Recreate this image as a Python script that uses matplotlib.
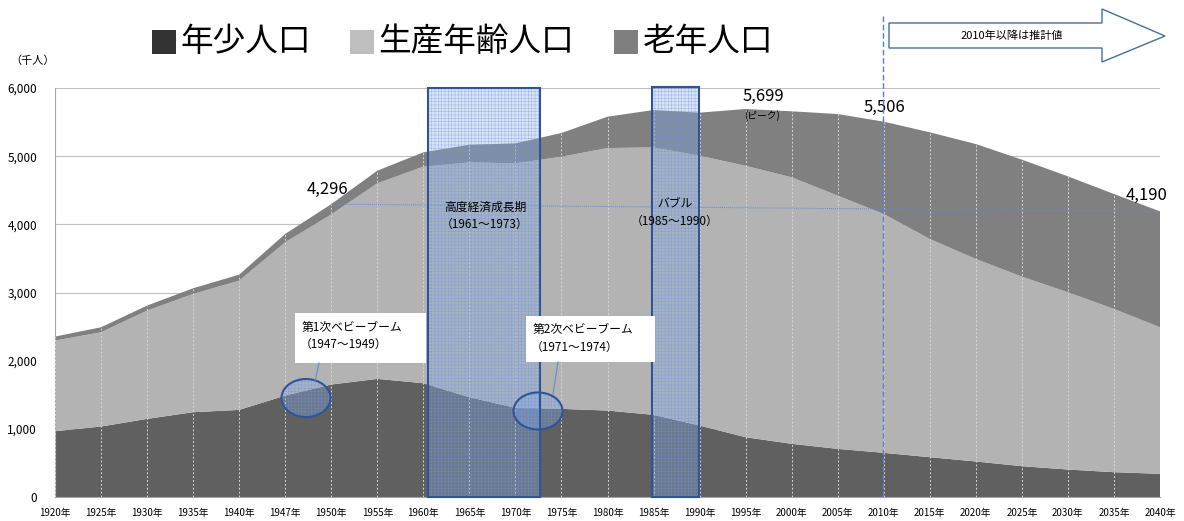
import matplotlib
matplotlib.use('Agg')
import matplotlib.pyplot as plt
from matplotlib.patches import Rectangle, Ellipse, Polygon
from matplotlib.lines import Line2D
import numpy as np

plt.rcParams['font.family'] = ['Noto Sans CJK JP', 'DejaVu Sans']
plt.rcParams['hatch.linewidth'] = 0.35

years = ['1920年', '1925年', '1930年', '1935年', '1940年', '1947年', '1950年', '1955年',
         '1960年', '1965年', '1970年', '1975年', '1980年', '1985年', '1990年', '1995年',
         '2000年', '2005年', '2010年', '2015年', '2020年', '2025年', '2030年', '2035年', '2040年']
youth = [965, 1034, 1146, 1244, 1278, 1488, 1650, 1733, 1669, 1464, 1307, 1293, 1268,
         1205, 1048, 877, 780, 706, 648, 584, 521, 452, 403, 364, 340]
working = [1330, 1383, 1589, 1735, 1896, 2249, 2496, 2869, 3177, 3445, 3588, 3699, 3851,
           3924, 3959, 3982, 3910, 3715, 3504, 3201, 2971, 2781, 2600, 2395, 2150]
elderly = [58, 73, 73, 83, 88, 122, 150, 185, 210, 259, 293, 348, 460,
           548, 631, 833, 968, 1197, 1354, 1565, 1686, 1716, 1701, 1686, 1700]
legend_labels = ['年少人口', '生産年齢人口', '老年人口']
area_colors = ['#606060', '#b3b3b3', '#808080']
legend_colors = ['#333333', '#bfbfbf', '#7f7f7f']
yticks = [0, 1000, 2000, 3000, 4000, 5000, 6000]

W, H = 1184, 521
fig = plt.figure(figsize=(W / 100, H / 100), dpi=100)


def fx(x):
    return x / W


def fy(y):
    return 1 - y / H


ax = fig.add_axes([fx(55), fy(497), (1160 - 55) / W, (497 - 88) / H])
x = np.arange(len(years))
total = np.array(youth) + np.array(working) + np.array(elderly)
ax.stackplot(x, youth, working, elderly, colors=area_colors, linewidth=0, zorder=2)
ax.vlines(x, 0, total, colors='#d6d6d6', linestyles=(0, (2, 2)), linewidth=0.7, zorder=3)
ax.set_xlim(0, len(years) - 1)
ax.set_ylim(0, 6000)
ax.set_yticks(yticks)
ax.set_yticklabels([f'{v:,}' for v in yticks], fontsize=8.5)
ax.set_xticks(x)
ax.set_xticklabels(years, fontsize=7)
ax.tick_params(axis='both', length=0)
ax.tick_params(axis='x', pad=8)
ax.tick_params(axis='y', pad=13)
ax.yaxis.grid(True, color='#c0c0c0', linewidth=0.8)
ax.set_axisbelow(True)
for s in ['top', 'right']:
    ax.spines[s].set_visible(False)
ax.spines['left'].set_color('#a6a6a6')
ax.spines['bottom'].set_color('#a6a6a6')

# line connecting 1950 and 2040 totals
i1950 = years.index('1950年')
ax.plot([x[i1950], x[-1]], [total[i1950], total[-1]], color='#5b8fd5', linewidth=0.7,
        linestyle=(0, (1, 1)), zorder=6)

# unit label
fig.text(fx(33), fy(61), '（千人）', fontsize=8, ha='center', va='center')

# legend
leg_sq = [152, 350, 614]
leg_tx = [180, 378, 643]
for sq, tx, lab, col in zip(leg_sq, leg_tx, legend_labels, legend_colors):
    fig.add_artist(Rectangle((fx(sq), fy(54)), 24 / W, 24 / H, transform=fig.transFigure,
                             facecolor=col, edgecolor='none'))
    fig.text(fx(tx), fy(42), lab, fontsize=23.5, ha='left', va='center')

hatch_face = (0.55, 0.68, 0.90, 0.32)
hatch_edge = (0.42, 0.58, 0.86, 0.6)
dark_blue = '#2f5597'


def hatched_rect(x0, y0, x1, y1):
    fig.add_artist(Rectangle((fx(x0), fy(y1)), (x1 - x0) / W, (y1 - y0) / H,
                             transform=fig.transFigure, facecolor=hatch_face,
                             edgecolor=hatch_edge, hatch='+++++', linewidth=0, zorder=4))
    fig.add_artist(Rectangle((fx(x0), fy(y1)), (x1 - x0) / W, (y1 - y0) / H,
                             transform=fig.transFigure, facecolor='none',
                             edgecolor=dark_blue, linewidth=1.5, zorder=5))


def hatched_ellipse(cx, cy, w, h):
    fig.add_artist(Ellipse((fx(cx), fy(cy)), w / W, h / H, transform=fig.transFigure,
                           facecolor=hatch_face, edgecolor=hatch_edge, hatch='+++++',
                           linewidth=0, zorder=4))
    fig.add_artist(Ellipse((fx(cx), fy(cy)), w / W, h / H, transform=fig.transFigure,
                           facecolor='none', edgecolor=dark_blue, linewidth=1.5, zorder=5))


hatched_rect(428, 88, 540, 497)
hatched_rect(652, 87, 699, 497)
fig.text(fx(485), fy(207), '高度経済成長期', fontsize=8.5, ha='center', va='center', zorder=7)
fig.text(fx(485), fy(224), '（1961～1973）', fontsize=8.5, ha='center', va='center', zorder=7)
fig.text(fx(675), fy(203), 'バブル', fontsize=8.5, ha='center', va='center', zorder=7)
fig.text(fx(675), fy(221), '（1985～1990）', fontsize=8.5, ha='center', va='center', zorder=7)

hatched_ellipse(306, 398, 49, 38)
hatched_ellipse(538, 411, 49, 37)

# callouts
for (bx0, by0, bx1, by1), (l1, l2), (ax0, ay0, ax1, ay1) in [
        ((295, 313, 426, 363), ('第1次ベビーブーム', '（1947～1949）'), (319, 363, 315, 381)),
        ((526, 316, 655, 362), ('第2次ベビーブーム', '（1971～1974）'), (558, 362, 553, 394))]:
    fig.add_artist(Rectangle((fx(bx0), fy(by1)), (bx1 - bx0) / W, (by1 - by0) / H,
                             transform=fig.transFigure, facecolor='white',
                             edgecolor='none', zorder=6))
    fig.text(fx(bx0 + 7), fy(by0 + 14), l1, fontsize=8.5, ha='left', va='center', zorder=7)
    fig.text(fx(bx0 + 5), fy(by0 + 31), l2, fontsize=8.5, ha='left', va='center', zorder=7)
    fig.add_artist(Line2D([fx(ax0), fx(ax1)], [fy(ay0), fy(ay1)], transform=fig.transFigure,
                          color='#5b8fd5', linewidth=0.8, zorder=6))

# value labels
fig.text(fx(327), fy(189), '4,296', fontsize=12, ha='center', va='center', zorder=7)
fig.text(fx(763), fy(96), '5,699', fontsize=12, ha='center', va='center', zorder=7)
fig.text(fx(762), fy(116), '(ピーク)', fontsize=7, ha='center', va='center', zorder=7)
fig.text(fx(884), fy(107), '5,506', fontsize=12, ha='center', va='center', zorder=7)
fig.text(fx(1147), fy(195), '4,190', fontsize=12, ha='center', va='center', zorder=7)

# 2010 dashed line
fig.add_artist(Line2D([fx(883), fx(883)], [fy(16), fy(497)], transform=fig.transFigure,
                      color='#4a86d8', linewidth=1.0, linestyle=(0, (4, 2)), zorder=8))

# arrow
pts = [(889, 23), (1102, 23), (1102, 9), (1165, 36), (1102, 62), (1102, 48), (889, 48)]
fig.add_artist(Polygon([(fx(a), fy(b)) for a, b in pts], closed=True,
                       transform=fig.transFigure, facecolor='white',
                       edgecolor='#41719c', linewidth=1.0, zorder=6))
fig.text(fx(1012), fy(36), '2010年以降は推計値', fontsize=8, ha='center', va='center', zorder=7)

fig.savefig('out.png', dpi=100)
